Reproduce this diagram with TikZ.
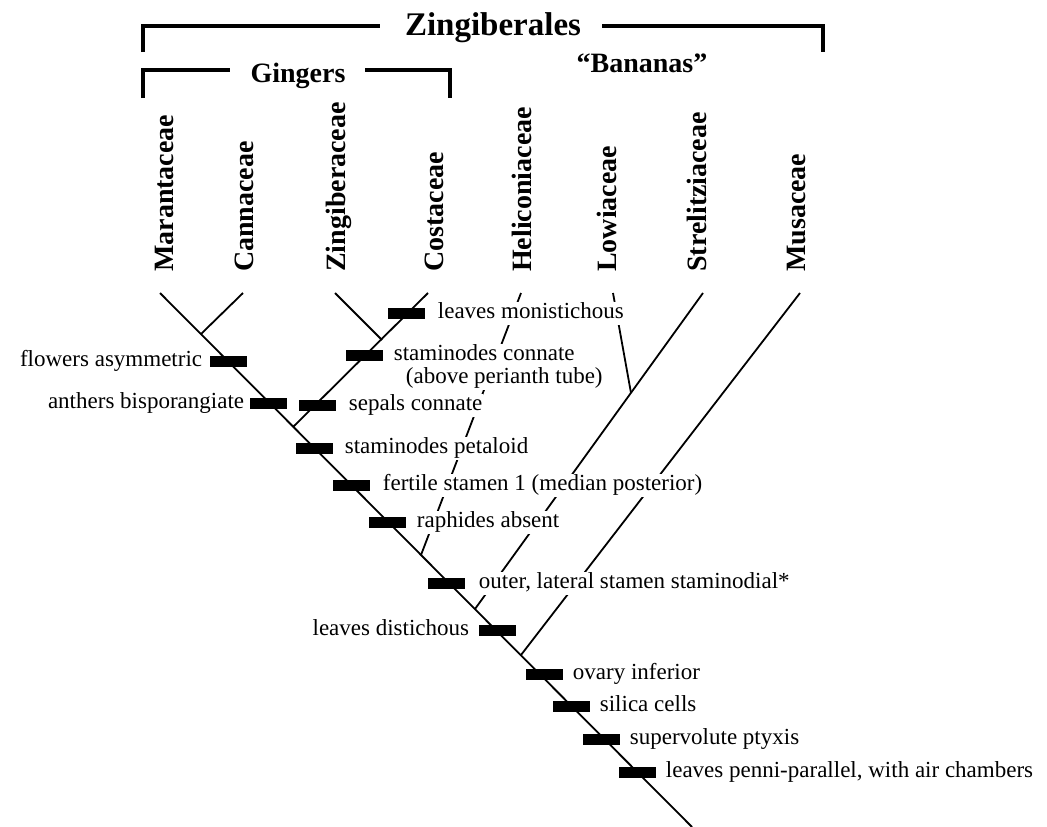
\documentclass[tikz,border=0pt]{standalone}
\usepackage{fontspec}
\setmainfont{Liberation Serif}
\usetikzlibrary{positioning}

\begin{document}
\begin{tikzpicture}[x=1pt,y=-1pt,
  branch/.style={line width=1.8pt},
  bracket/.style={line width=3.4pt},
  charbox/.style={fill=black,minimum width=37pt,minimum height=11pt,inner sep=0pt},
  trait/.style={fill=white,inner sep=1pt,text height=16pt,text depth=5pt,font=\fontsize{23}{26}\selectfont},
  taxon/.style={rotate=90,anchor=base west,inner sep=0pt,font=\fontsize{28}{30}\selectfont\bfseries},
  group/.style={anchor=base,inner sep=0pt,font=\fontsize{28}{30}\selectfont\bfseries}]
  \useasboundingbox (0,0) rectangle (1047,827);

  % group headings
  \node[group,font=\fontsize{33}{35}\selectfont\bfseries] (zgb) at (493,35) {Zingiberales};
  \node[group] (gng) at (298,82) {Gingers};
  \node[group] (bnn) at (642,72) {``Bananas''};
  \draw[bracket] (143,52) -- (143,26) -- (380,26);
  \draw[bracket] (602,26) -- (823,26) -- (823,52);
  \draw[bracket] (143,98) -- (143,70) -- (230,70);
  \draw[bracket] (365,70) -- (450,70) -- (450,98);

  % families
  \foreach \fam/\x in {Marantaceae/173,Cannaceae/253,Zingiberaceae/345,Costaceae/443,
                       Heliconiaceae/531,Lowiaceae/616,Strelitziaceae/706,Musaceae/805}
    \node[taxon] (n-\fam) at (\x,272) {\fam};

  % tree
  \coordinate (mar) at (160,293); \coordinate (can) at (243,293);
  \coordinate (zin) at (335,293); \coordinate (cos) at (428,293);
  \coordinate (hel) at (521,293); \coordinate (low) at (613,293);
  \coordinate (str) at (703,293); \coordinate (mus) at (800,293);
  \coordinate (root) at (692,827);
  \coordinate (jmc) at (201,334); \coordinate (jzc) at (382,340);
  \coordinate (jgi) at (293,427); \coordinate (jhe) at (421,555);
  \coordinate (jls) at (631,393); \coordinate (jst) at (475,609);
  \coordinate (jmu) at (521,655);
  \draw[branch] (mar) -- (root);
  \draw[branch] (can) -- (jmc);
  \draw[branch] (zin) -- (jzc);
  \draw[branch] (cos) -- (jgi);
  \draw[branch] (hel) -- (jhe);
  \draw[branch] (low) -- (jls);
  \draw[branch] (str) -- (jst);
  \draw[branch] (mus) -- (jmu);

  % characters
  \node[charbox] (b1) at (406,313) {};
  \node[charbox] (b2) at (364,355) {};
  \node[charbox] (b3) at (228,361) {};
  \node[charbox] (b4) at (268,403) {};
  \node[charbox] (b5) at (317,405) {};
  \node[charbox] (b6) at (314,448) {};
  \node[charbox] (b7) at (351,485) {};
  \node[charbox] (b8) at (387,522) {};
  \node[charbox] (b9) at (446,583) {};
  \node[charbox] (b10) at (497,630) {};
  \node[charbox] (b11) at (544,674) {};
  \node[charbox] (b12) at (571,706) {};
  \node[charbox] (b13) at (601,739) {};
  \node[charbox] (b14) at (637,772) {};

  \node[trait,right=12pt of b1] (t1) {leaves monistichous};
  \node[trait,right=10pt of b2] (t2) {staminodes connate};
  \node[trait,anchor=north west] (t2b) at ([xshift=12pt]t2.south west) {(above perianth tube)};
  \node[trait,left=6pt of b3] (t3) {flowers asymmetric};
  \node[trait,left=4pt of b4] (t4) {anthers bisporangiate};
  \node[trait,right=12pt of b5] (t5) {sepals connate};
  \node[trait,right=11pt of b6] (t6) {staminodes petaloid};
  \node[trait,right=12pt of b7] (t7) {fertile stamen 1 (median posterior)};
  \node[trait,right=10pt of b8] (t8) {raphides absent};
  \node[trait,right=13pt of b9] (t9) {outer, lateral stamen staminodial*};
  \node[trait,left=8pt of b10] (t10) {leaves distichous};
  \node[trait,right=9pt of b11] (t11) {ovary inferior};
  \node[trait,right=9pt of b12] (t12) {silica cells};
  \node[trait,right=9pt of b13] (t13) {supervolute ptyxis};
  \node[trait,right=9pt of b14] (t14) {leaves penni-parallel, with air chambers};
\end{tikzpicture}
\end{document}
